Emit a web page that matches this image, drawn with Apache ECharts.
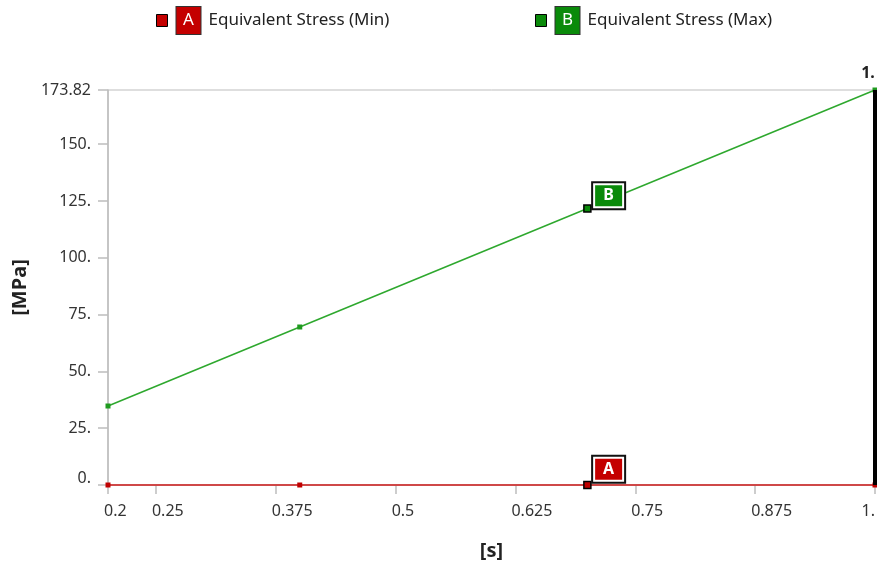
<!DOCTYPE html>
<html>
<head>
<meta charset="utf-8">
<script src="https://cdn.jsdelivr.net/npm/echarts@6/dist/echarts.min.js"></script>
<style>
  html, body { margin: 0; padding: 0; background: #fff; }
  #chart { width: 877px; height: 565px; }
</style>
</head>
<body>
<div id="chart"></div>
<script>
// Time history of equivalent stress (min / max) over the load steps
const timeSteps = [0.2, 0.4, 1.0];
const stressMin = [0, 0, 0];
const stressMax = [34.764, 69.528, 173.82];

// Probe annotations at t = 0.7 s
const probeTime = 0.7;
const probeMin = 0;
const probeMax = 121.674;

// Current time marker
const currentTime = 1.0;
const currentTimeLabel = '1.';

// Axis ticks and their labels
const xTicks = [0.2, 0.25, 0.375, 0.5, 0.625, 0.75, 0.875, 1.0];
const xTickLabels = ['0.2', '0.25', '0.375', '0.5', '0.625', '0.75', '0.875', '1.'];
const yTicks = [0, 25, 50, 75, 100, 125, 150, 173.82];
const yTickLabels = ['0.', '25.', '50.', '75.', '100.', '125.', '150.', '173.82'];

const seriesNames = ['Equivalent Stress (Min)', 'Equivalent Stress (Max)'];
const seriesTags = ['A', 'B'];

const FONT = '"Noto Sans", "DejaVu Sans", sans-serif';
const RED = '#d21f1f';
const GREEN = '#2ea82e';
const TAG_RED = '#c40000';
const TAG_GREEN = '#0a8a0a';

function pairs(xs, ys) { return xs.map((x, i) => [x, ys[i]]); }

function legendFor(i, left, tagColor) {
  return {
    show: true,
    left: left,
    top: 6,
    padding: 0,
    icon: 'rect',
    itemWidth: 11,
    itemHeight: 12,
    itemStyle: { borderColor: '#000', borderWidth: 1 },
    data: [{ name: seriesNames[i], itemStyle: { color: tagColor, borderColor: '#000', borderWidth: 1 } }],
    formatter: name => '{sp|}{tag|' + seriesTags[i] + '}{sp2|}' + name,
    textStyle: {
      fontFamily: FONT, fontSize: 17, color: '#222',
      rich: {
        sp: { width: 4 },
        sp2: { width: 8 },
        tag: {
          backgroundColor: tagColor, color: '#fff', borderColor: '#333', borderWidth: 1,
          width: 24, height: 27, lineHeight: 27, align: 'center', fontSize: 17, fontFamily: FONT
        }
      }
    }
  };
}

function probeLabel(tag, fill, dy) {
  return {
    show: true,
    position: [10, dy],
    formatter: '{t|' + tag + '}',
    backgroundColor: '#fff',
    borderColor: '#111',
    borderWidth: 2,
    padding: 2,
    rich: {
      t: {
        backgroundColor: fill, color: '#fff', width: 27, height: 21, lineHeight: 21,
        align: 'center', fontWeight: 'bold', fontSize: 16, fontFamily: FONT
      }
    }
  };
}

const chart = echarts.init(document.getElementById('chart'), null, { renderer: 'canvas' });

chart.setOption({
  animation: false,
  backgroundColor: '#fff',
  legend: [legendFor(0, 156, TAG_RED), legendFor(1, 535, TAG_GREEN)],
  grid: {
    left: 108, right: 2, top: 90, bottom: 80,
    containLabel: false,
    outerBoundsMode: 'none',
    show: true, borderColor: '#bdbdbd', borderWidth: 1, backgroundColor: 'transparent'
  },
  xAxis: {
    type: 'value',
    min: 0.2, max: 1.0,
    name: '[s]',
    nameLocation: 'middle',
    nameGap: 56,
    nameTextStyle: { fontFamily: FONT, fontSize: 20, fontWeight: 'bold', color: '#222' },
    axisLine: { show: true, lineStyle: { color: '#bdbdbd', width: 1.5 } },
    axisTick: { show: true, length: 9, customValues: xTicks, lineStyle: { color: '#bdbdbd', width: 1.5 } },
    axisLabel: {
      customValues: xTicks,
      formatter: v => xTickLabels[xTicks.findIndex(t => Math.abs(t - v) < 1e-9)] || '',
      fontFamily: FONT, fontSize: 16, color: '#333', margin: 18, align: 'left', padding: [0, 0, 0, -4],
      alignMaxLabel: 'right'
    },
    splitLine: { show: false }
  },
  yAxis: {
    type: 'value',
    min: 0, max: 173.82,
    name: '[MPa]',
    nameLocation: 'middle',
    nameGap: 76,
    nameTextStyle: { fontFamily: FONT, fontSize: 20, fontWeight: 'bold', color: '#222' },
    axisLine: { show: true, lineStyle: { color: '#bdbdbd', width: 1.5 } },
    axisTick: { show: true, length: 10, customValues: yTicks, lineStyle: { color: '#bdbdbd', width: 1.5 } },
    axisLabel: {
      customValues: yTicks,
      formatter: v => {
        const i = yTicks.findIndex(t => Math.abs(t - v) < 1e-9);
        if (i < 0) return '';
        return i === 0 ? '{z|' + yTickLabels[i] + '}' : yTickLabels[i];
      },
      fontFamily: FONT, fontSize: 16, color: '#333', margin: 17,
      rich: { z: { fontFamily: FONT, fontSize: 16, color: '#333', padding: [0, 0, 14, 0] } }
    },
    splitLine: { show: false }
  },
  series: [
    {
      name: seriesNames[0],
      type: 'line',
      data: pairs(timeSteps, stressMin),
      symbol: 'rect', symbolSize: 5,
      lineStyle: { color: RED, width: 1.5 },
      itemStyle: { color: '#c00000' },
      clip: false,
      z: 3,
      markPoint: {
        symbol: 'rect', symbolSize: 7,
        itemStyle: { color: '#c00000', borderColor: '#000', borderWidth: 1.5 },
        label: probeLabel(seriesTags[0], TAG_RED, -24),
        data: [{ coord: [probeTime, probeMin] }]
      },
      markLine: {
        silent: true,
        symbol: 'none',
        lineStyle: { color: '#000', width: 4, type: 'solid' },
        label: {
          show: true, position: 'end', formatter: currentTimeLabel,
          fontFamily: FONT, fontSize: 16, fontWeight: 'bold', color: '#222',
          offset: [-7, -4]
        },
        data: [{ xAxis: currentTime }]
      }
    },
    {
      name: seriesNames[1],
      type: 'line',
      data: pairs(timeSteps, stressMax),
      symbol: 'rect', symbolSize: 5,
      lineStyle: { color: GREEN, width: 1.5 },
      itemStyle: { color: '#1f9a1f' },
      clip: false,
      z: 4,
      markPoint: {
        symbol: 'rect', symbolSize: 7,
        itemStyle: { color: '#0a8a0a', borderColor: '#000', borderWidth: 1.5 },
        label: probeLabel(seriesTags[1], TAG_GREEN, -21),
        data: [{ coord: [probeTime, probeMax] }]
      }
    }
  ]
});
</script>
</body>
</html>
